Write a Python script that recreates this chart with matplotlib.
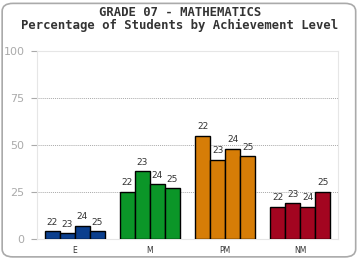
import matplotlib
matplotlib.use('Agg')
import matplotlib.pyplot as plt
from matplotlib.patches import FancyBboxPatch
import numpy as np

# data
levels = ['E', 'M', 'PM', 'NM']
years = ['22', '23', '24', '25']
pct_22 = [4, 25, 55, 17]
pct_23 = [3, 36, 42, 19]
pct_24 = [7, 29, 48, 17]
pct_25 = [4, 27, 44, 25]
level_colors = ['#0b3f8e', '#0b9628', '#d67d07', '#a30520']

series = [pct_22, pct_23, pct_24, pct_25]

fig = plt.figure(figsize=(3.6, 2.6), dpi=100)
fig.patch.set_facecolor('white')

# rounded outer frame
frame = FancyBboxPatch((0.006, 0.012), 0.982, 0.975,
                       boxstyle='round,pad=0,rounding_size=0.03',
                       transform=fig.transFigure, fill=False,
                       edgecolor='#aaaaaa', linewidth=1.2)
fig.patches.append(frame)

ax = fig.add_axes([37 / 360, 1 - 239 / 260, 301 / 360, 188 / 260])

x = np.arange(len(levels)) + 0.5
w = 0.2
for j, vals in enumerate(series):
    xs = x + (j - 1.5) * w
    bars = ax.bar(xs, vals, width=w, color=level_colors,
                  edgecolor='black', linewidth=1.0, zorder=3)
    for b, v in zip(bars, vals):
        ax.text(b.get_x() + b.get_width() / 2, v + 2.5, years[j],
                ha='center', va='bottom', fontsize=6.5, color='#333333')

ax.set_xlim(0, 4)
ax.set_ylim(0, 100)
ax.set_yticks([0, 25, 50, 75, 100])
ax.tick_params(axis='y', colors='#aaaaaa', labelsize=8, length=4, width=0.8, pad=5)
ax.set_xticks(x)
ax.set_xticklabels(levels, fontsize=5.5, color='#333333')
ax.tick_params(axis='x', length=0, pad=5)
for yv in [25, 50, 75]:
    ax.axhline(yv, color='#aaaaaa', linestyle=(0, (1, 1)), linewidth=0.7, zorder=1)
for s in ax.spines.values():
    s.set_color('#e6e6e6')
    s.set_linewidth(0.8)

fig.text(0.5, 1 - 13 / 260, 'GRADE 07 - MATHEMATICS', ha='center', va='center',
         fontsize=8.8, fontweight='bold', family='DejaVu Sans Mono', color='#333333')
fig.text(0.5, 1 - 25.5 / 260, 'Percentage of Students by Achievement Level', ha='center',
         va='center', fontsize=8.8, fontweight='bold', family='DejaVu Sans Mono',
         color='#333333')

fig.savefig('out.png', dpi=100)
